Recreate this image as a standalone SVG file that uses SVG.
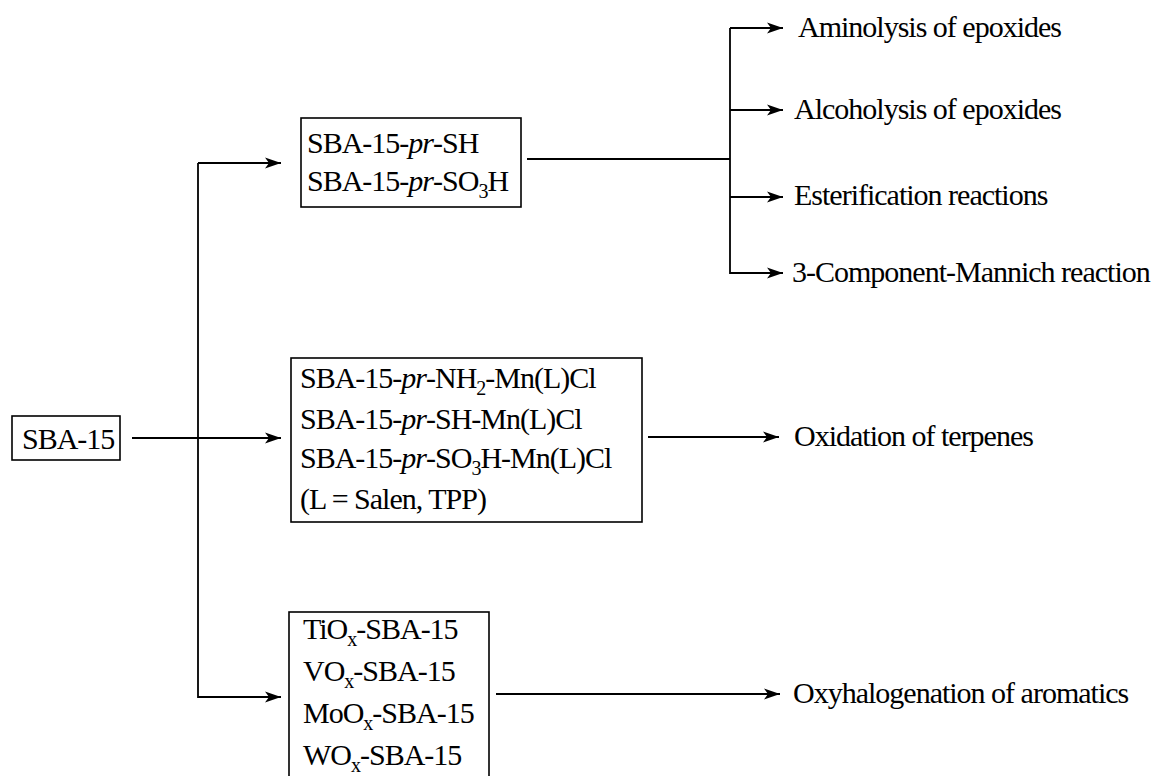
<svg xmlns="http://www.w3.org/2000/svg" width="1159" height="776" viewBox="0 0 1159 776">
<style>
.t{font-family:'Liberation Serif','Times New Roman','DejaVu Serif',serif;font-size:30px;fill:#000;letter-spacing:-1px}
.i{font-style:italic}
.s{font-size:20px}
.box{fill:none;stroke:#000;stroke-width:1.6}
.ln{fill:none;stroke:#000;stroke-width:1.8}
</style>
<defs>
<marker id="ah" markerWidth="18" markerHeight="12" refX="16" refY="6" orient="auto" markerUnits="userSpaceOnUse">
<path d="M0,0.5 L16,6 L0,11.5 L4,6 Z" fill="#000"/>
</marker>
</defs>
<rect width="1159" height="776" fill="#fff"/>
<g id="connectors">
<path class="ln" d="M132,438 H281" marker-end="url(#ah)"/>
<path class="ln" d="M198,163 V697 H281" marker-end="url(#ah)"/>
<path class="ln" d="M198,163 H281" marker-end="url(#ah)"/>
<path class="ln" d="M527,159 H730"/>
<path class="ln" d="M730,28 V273 H783" marker-end="url(#ah)"/>
<path class="ln" d="M730,28 H783" marker-end="url(#ah)"/>
<path class="ln" d="M730,110 H783" marker-end="url(#ah)"/>
<path class="ln" d="M730,197 H783" marker-end="url(#ah)"/>
<path class="ln" d="M648,437 H779" marker-end="url(#ah)"/>
<path class="ln" d="M496,694 H780" marker-end="url(#ah)"/>
</g>
<g class="t">
<g id="sba15">
<rect class="box" x="12" y="416" width="108" height="44"/>
<text x="22" y="449">SBA-15</text>
</g>
<g id="thiol">
<rect class="box" x="301" y="118" width="220" height="89"/>
<text x="307" y="153">SBA-15-<tspan class="i">pr</tspan>-SH</text>
<text x="307" y="191">SBA-15-<tspan class="i">pr</tspan>-SO<tspan class="s" dy="7">3</tspan><tspan dy="-7">H</tspan></text>
</g>
<g id="mn">
<rect class="box" x="291" y="358" width="351" height="164"/>
<text x="300" y="388">SBA-15-<tspan class="i">pr</tspan>-NH<tspan class="s" dy="7">2</tspan><tspan dy="-7">-Mn(L)Cl</tspan></text>
<text x="300" y="429">SBA-15-<tspan class="i">pr</tspan>-SH-Mn(L)Cl</text>
<text x="300" y="468">SBA-15-<tspan class="i">pr</tspan>-SO<tspan class="s" dy="7">3</tspan><tspan dy="-7">H-Mn(L)Cl</tspan></text>
<text x="300" y="509">(L = Salen, TPP)</text>
</g>
<g id="oxides">
<rect class="box" x="289" y="612" width="200" height="180"/>
<text x="303" y="639">TiO<tspan class="s" dy="7">x</tspan><tspan dy="-7">-SBA-15</tspan></text>
<text x="303" y="681">VO<tspan class="s" dy="7">x</tspan><tspan dy="-7">-SBA-15</tspan></text>
<text x="303" y="723">MoO<tspan class="s" dy="7">x</tspan><tspan dy="-7">-SBA-15</tspan></text>
<text x="303" y="765">WO<tspan class="s" dy="7">x</tspan><tspan dy="-7">-SBA-15</tspan></text>
</g>
<g id="aminolysis"><text x="798" y="37">Aminolysis of epoxides</text></g>
<g id="alcoholysis"><text x="794" y="119">Alcoholysis of epoxides</text></g>
<g id="esterification"><text x="794" y="205">Esterification reactions</text></g>
<g id="mannich"><text x="792" y="282">3-Component-Mannich reaction</text></g>
<g id="terpenes"><text x="794" y="446">Oxidation of terpenes</text></g>
<g id="aromatics"><text x="793" y="703">Oxyhalogenation of aromatics</text></g>
</g>
</svg>
